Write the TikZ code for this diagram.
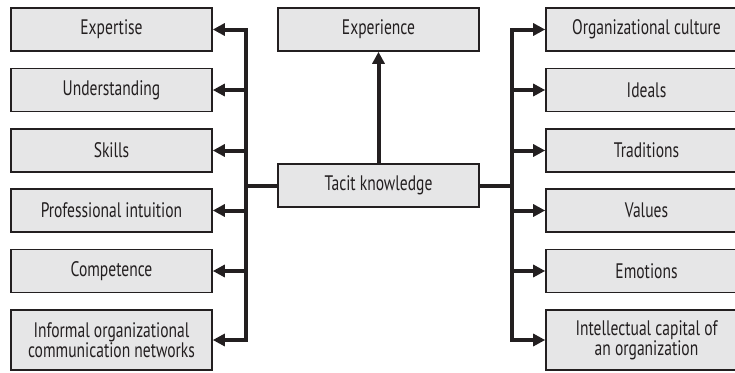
\documentclass[tikz,border=0pt]{standalone}
\usepackage{fontspec}
\setmainfont[FakeStretch=0.74]{PT Sans}
\usetikzlibrary{arrows.meta}
\definecolor{ink}{HTML}{231F20}
\definecolor{boxfill}{HTML}{E6E6E7}
\tikzset{
  box/.style={draw=ink, fill=boxfill, line width=1.6pt, minimum width=201pt, minimum height=43pt,
    inner sep=0pt, align=center, text=ink, font=\fontsize{21}{20}\selectfont},
  tall/.style={minimum height=60pt},
  conn/.style={draw=ink, line width=4pt, line join=miter},
  arr/.style={conn, -{Triangle[length=12pt,width=12pt]}}
}
\begin{document}
\begin{tikzpicture}[x=1pt,y=-1pt]
\useasboundingbox (0,0) rectangle (735,372);
\clip (0,0) rectangle (735,372);
% left column
\node[box] (expertise) at (111.5,29.5) {Expertise};
\node[box] (understanding) at (111.5,90) {Understanding};
\node[box] (skills) at (111.5,150.5) {Skills};
\node[box] (intuition) at (111.5,210.5) {Professional intuition};
\node[box] (competence) at (111.5,271) {Competence};
\node[box,tall] (informal) at (111.5,340) {Informal organizational\\communication networks};
% centre
\node[box] (experience) at (378.5,29.5) {Experience};
\node[box] (tacit) at (378.5,185.5) {Tacit knowledge};
% right column
\node[box] (culture) at (646.5,29.5) {Organizational culture};
\node[box] (ideals) at (646.5,90) {Ideals};
\node[box] (traditions) at (646.5,150.5) {Traditions};
\node[box] (values) at (646.5,210.5) {Values};
\node[box] (emotions) at (646.5,271) {Emotions};
\node[box,tall] (capital) at (646.5,340) {Intellectual capital of\\an organization};
% junctions
\coordinate (jl) at (246,185.5);
\coordinate (jr) at (512,185.5);
% connectors
\draw[arr] (tacit.north) -- (experience.south);
\foreach \n in {expertise,understanding,skills,intuition,competence,informal}
  \draw[arr] (tacit.west) -- (jl) |- (\n.east);
\foreach \n in {culture,ideals,traditions,values,emotions,capital}
  \draw[arr] (tacit.east) -- (jr) |- (\n.west);
\end{tikzpicture}
\end{document}
